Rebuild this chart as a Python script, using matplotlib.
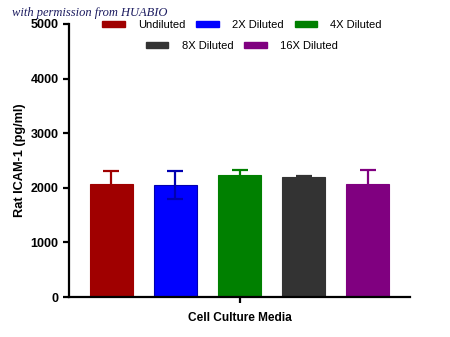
import matplotlib.pyplot as plt
from matplotlib.patches import Patch
import numpy as np

plt.rcParams['font.family'] = ['Liberation Sans', 'DejaVu Sans']

# ICAM-1 readings per dilution of cell culture media
groups = ['Undiluted', '2X Diluted', '4X Diluted', '8X Diluted', '16X Diluted']
means = [2065, 2055, 2235, 2200, 2075]
errs = [235, 255, 85, 15, 255]
colors = ['#a00000', '#0000ff', '#008000', '#333333', '#800080']
edge_colors = ['#a00000', '#0000b0', '#008000', '#333333', '#800080']

fig = plt.figure(figsize=(4.5, 3.37), dpi=100)
ax = fig.add_axes([69/450, 1-297/337, 341/450, 273/337])

x = np.arange(len(groups)) - 2
for i in range(len(groups)):
    ax.bar(x[i], means[i], width=0.67, color=colors[i], edgecolor=edge_colors[i], linewidth=0.8)
    ax.errorbar(x[i], means[i], yerr=errs[i], color=edge_colors[i], capsize=5.5,
                elinewidth=1.6, capthick=1.6, fmt='none')

ax.set_xlim(-2.66, 2.66)
ax.set_ylim(0, 5000)
ax.set_yticks([0, 1000, 2000, 3000, 4000, 5000])
ax.set_xticks([0])
ax.set_xticklabels([''])
for s in ['top', 'right']:
    ax.spines[s].set_visible(False)
for s in ['left', 'bottom']:
    ax.spines[s].set_linewidth(1.6)
ax.tick_params(width=1.6, length=4, labelsize=9)
for lab in ax.get_yticklabels():
    lab.set_fontweight('bold')

ax.set_ylabel('Rat ICAM-1 (pg/ml)', fontsize=9.2, fontweight='bold', labelpad=3)
ax.set_xlabel('Cell Culture Media', fontsize=8.6, fontweight='bold', labelpad=3)

# legend drawn as two centred rows
handles = [Patch(facecolor=c, edgecolor=c) for c in colors]
leg1 = fig.legend(handles[:3], groups[:3], ncol=3, loc='center',
                  bbox_to_anchor=(242/450, 1-25/337), frameon=False, fontsize=8,
                  handlelength=2.0, handleheight=0.45, columnspacing=1.0, handletextpad=1.2)
leg2 = fig.legend(handles[3:], groups[3:], ncol=2, loc='center',
                  bbox_to_anchor=(242/450, 1-46/337), frameon=False, fontsize=8,
                  handlelength=2.0, handleheight=0.45, columnspacing=1.0, handletextpad=1.2)

fig.text(12/450, 1-13/337, 'with permission from HUABIO', fontsize=9,
         family='Liberation Serif', style='italic', color='#1c1c60', va='center')

fig.savefig('out.png', dpi=100)
